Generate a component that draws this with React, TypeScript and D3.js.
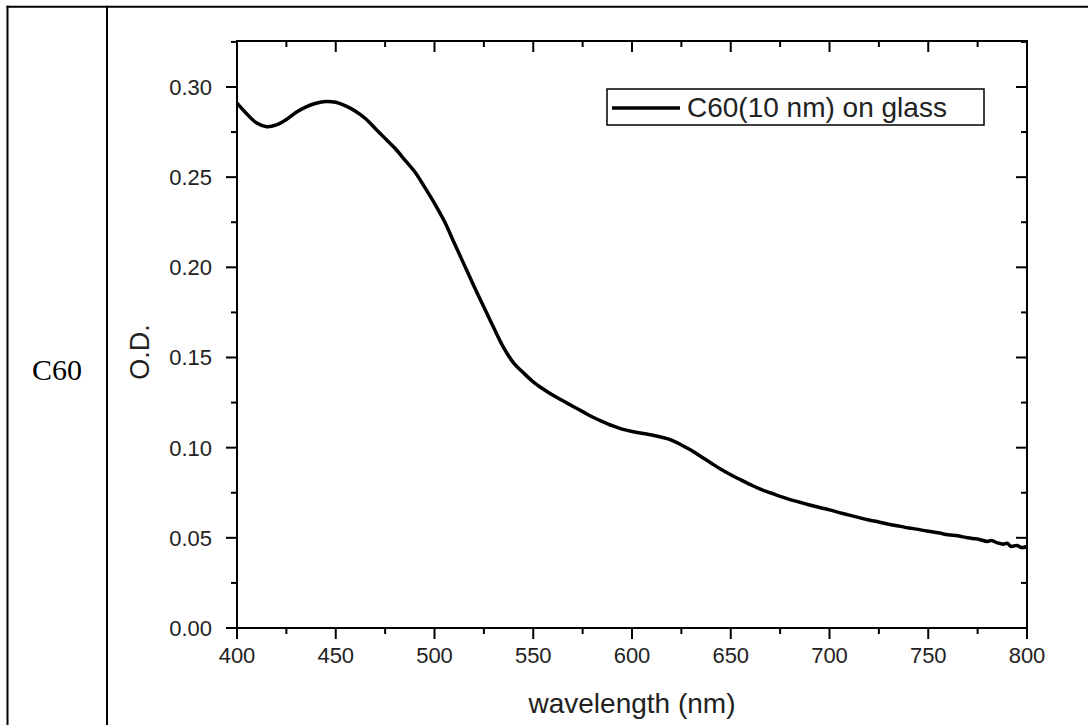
import React from "react";
import * as d3 from "d3";

const wavelengths = [
  400, 405, 410, 415, 420, 425, 430, 435, 440, 445, 450, 455, 460, 465, 470, 475, 480, 485, 490, 495,
  500, 505, 510, 515, 520, 525, 530, 535, 540, 545, 550, 555, 560, 565, 570, 575, 580, 585, 590, 595,
  600, 605, 610, 615, 620, 625, 630, 635, 640, 645, 650, 655, 660, 665, 670, 675, 680, 685, 690, 695,
  700, 705, 710, 715, 720, 725, 730, 735, 740, 745, 750, 755, 760, 765, 770, 775, 780, 782, 785, 788,
  790, 792, 795, 797, 800,
];
const od = [
  0.291, 0.285, 0.28, 0.278, 0.279, 0.282, 0.286, 0.289, 0.291, 0.292, 0.2915, 0.2895, 0.2865, 0.2825, 0.277, 0.2715, 0.266, 0.2595, 0.253, 0.2445,
  0.2355, 0.2255, 0.2135, 0.2015, 0.1895, 0.178, 0.1665, 0.1555, 0.147, 0.1415, 0.1365, 0.1325, 0.129, 0.126, 0.123, 0.12, 0.117, 0.1145, 0.1122, 0.1103,
  0.109, 0.108, 0.107, 0.1058, 0.1042, 0.1015, 0.0985, 0.095, 0.0915, 0.088, 0.085, 0.0822, 0.0795, 0.077, 0.075, 0.073, 0.0712, 0.0697, 0.0682, 0.0668,
  0.0655, 0.064, 0.0626, 0.0612, 0.0599, 0.0588, 0.0575, 0.0566, 0.0555, 0.0547, 0.0536, 0.0528, 0.0517, 0.0511, 0.05, 0.0493, 0.048, 0.0485, 0.0472, 0.0465,
  0.047, 0.0452, 0.0458, 0.0446, 0.0452,
];
const xTicks = [400, 450, 500, 550, 600, 650, 700, 750, 800];
const yTicks = [0.0, 0.05, 0.1, 0.15, 0.2, 0.25, 0.3];
const seriesName = "C60(10 nm) on glass";
const rowLabel = "C60";
const xTitle = "wavelength (nm)";
const yTitle = "O.D.";

export default function App() {
  const left = 237, right = 1027, top = 41, bottom = 628;
  const x = d3.scaleLinear().domain([400, 800]).range([left, right]);
  const y = d3.scaleLinear().domain([0, 0.3255]).range([bottom, top]);
  const pts = wavelengths.map((w, i) => [w, od[i]] as [number, number]);
  const line = d3
    .line<[number, number]>()
    .x((d) => x(d[0]))
    .y((d) => y(d[1]))
    .curve(d3.curveCatmullRom);
  const xMinor = xTicks.slice(0, -1).map((t) => t + 25);
  const yMinor = yTicks.map((t) => t + 0.025).filter((t) => t < 0.3255);
  const font = "Liberation Sans, Arial, sans-serif";
  const MAJ = 11, MIN = 6;
  return (
    <svg
      width={1088}
      height={725}
      style={{ position: "absolute", left: 0, top: 0, background: "#fff" }}
    >
      {/* table frame */}
      <line x1={7.5} x2={7.5} y1={5.7} y2={725} stroke="#000" strokeWidth={2} />
      <line x1={107} x2={107} y1={5.7} y2={725} stroke="#000" strokeWidth={2} />
      <line x1={6.5} x2={1088} y1={6.7} y2={6.7} stroke="#000" strokeWidth={2} />
      <text x={57} y={380} textAnchor="middle" fontFamily="Liberation Serif, Times New Roman, serif" fontSize={30}>
        {rowLabel}
      </text>

      {/* data */}
      <path d={line(pts) || ""} fill="none" stroke="#000" strokeWidth={3.5} strokeLinejoin="round" />

      {/* frame */}
      <rect x={left} y={top} width={right - left} height={bottom - top} fill="none" stroke="#000" strokeWidth={2} />

      {/* x ticks */}
      {xTicks.map((t) => (
        <g key={"xt" + t}>
          <line x1={x(t)} x2={x(t)} y1={bottom} y2={bottom + MAJ} stroke="#000" strokeWidth={2} />
          <line x1={x(t)} x2={x(t)} y1={top} y2={top + MAJ} stroke="#000" strokeWidth={2} />
          <text x={x(t)} y={663} textAnchor="middle" fontFamily={font} fontSize={22} fill="#222">
            {t}
          </text>
        </g>
      ))}
      {xMinor.map((t) => (
        <g key={"xm" + t}>
          <line x1={x(t)} x2={x(t)} y1={bottom} y2={bottom + MIN} stroke="#000" strokeWidth={2} />
          <line x1={x(t)} x2={x(t)} y1={top} y2={top + MIN} stroke="#000" strokeWidth={2} />
        </g>
      ))}
      {/* y ticks */}
      {yTicks.map((t) => (
        <g key={"yt" + t}>
          <line x1={left - MAJ} x2={left} y1={y(t)} y2={y(t)} stroke="#000" strokeWidth={2} />
          <line x1={right - MAJ} x2={right} y1={y(t)} y2={y(t)} stroke="#000" strokeWidth={2} />
          <text x={212} y={y(t) + 8} textAnchor="end" fontFamily={font} fontSize={22} fill="#222">
            {t.toFixed(2)}
          </text>
        </g>
      ))}
      {yMinor.map((t) => (
        <g key={"ym" + t}>
          <line x1={left - MIN} x2={left} y1={y(t)} y2={y(t)} stroke="#000" strokeWidth={2} />
          <line x1={right - MIN} x2={right} y1={y(t)} y2={y(t)} stroke="#000" strokeWidth={2} />
        </g>
      ))}

      {/* axis titles */}
      <text x={(left + right) / 2} y={713} textAnchor="middle" fontFamily={font} fontSize={28} fill="#222">
        {xTitle}
      </text>
      <text
        transform={`translate(149, 352) rotate(-90)`}
        textAnchor="middle"
        fontFamily={font}
        fontSize={27}
        fill="#222"
      >
        {yTitle}
      </text>

      {/* legend */}
      <rect x={607} y={89} width={377} height={36} fill="#fff" stroke="#000" strokeWidth={1.5} />
      <line x1={612} x2={680} y1={108} y2={108} stroke="#000" strokeWidth={3.5} />
      <text x={687} y={117} fontFamily={font} fontSize={28} fill="#222">
        {seriesName}
      </text>
    </svg>
  );
}
